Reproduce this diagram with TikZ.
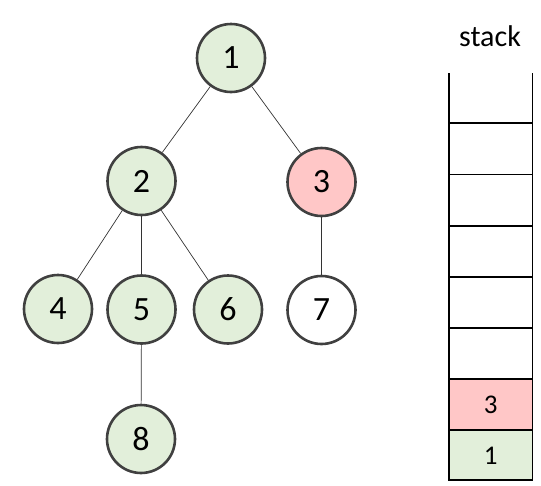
\documentclass[tikz,border=0pt]{standalone}
\usepackage{fontspec}
\setmainfont{Carlito}
\definecolor{vgreen}{RGB}{226,239,218}
\definecolor{vpink}{RGB}{255,199,199}
\definecolor{vborder}{RGB}{64,64,64}
\begin{document}
\begin{tikzpicture}[x=1pt,y=-1pt,
  vert/.style={circle,draw=vborder,line width=2.6pt,minimum size=68pt,inner sep=0pt,font=\fontsize{34}{38}\selectfont},
  edge/.style={draw=black!80,line width=0.7pt},
  stk/.style={draw=black,line width=1.3pt},
  cell/.style={font=\fontsize{27}{30}\selectfont}]
\useasboundingbox (0,0) rectangle (541,485);
\node[vert,fill=vgreen] (n1) at (231,58) {1};
\node[vert,fill=vgreen] (n2) at (141.5,181) {2};
\node[vert,fill=vpink]  (n3) at (321.5,182) {3};
\node[vert,fill=vgreen] (n4) at (58,309) {4};
\node[vert,fill=vgreen] (n5) at (141.5,309.5) {5};
\node[vert,fill=vgreen] (n6) at (228,309.5) {6};
\node[vert,fill=white]  (n7) at (321.5,310) {7};
\node[vert,fill=vgreen] (n8) at (141,439) {8};
\path[edge] (n1) -- (n2);
\path[edge] (n1) -- (n3);
\path[edge] (n2) -- (n4);
\path[edge] (n2) -- (n5);
\path[edge] (n2) -- (n6);
\path[edge] (n3) -- (n7);
\path[edge] (n5) -- (n8);
% stack
\node[font=\fontsize{30}{34}\selectfont] (stacklabel) at (490,36) {stack};
\fill[vpink] (449,379) rectangle (532.5,430);
\fill[vgreen] (449,430) rectangle (532.5,480);
\foreach \yy in {123,174.5,226,277,328,379,430}
  \draw[stk] (449,\yy) -- (532.5,\yy);
\draw[stk] (449,73) -- (449,480) -- (532.5,480) -- (532.5,73);
\node[cell] (c3) at (490.75,405) {3};
\node[cell] (c1) at (490.75,455.5) {1};
\end{tikzpicture}
\end{document}
